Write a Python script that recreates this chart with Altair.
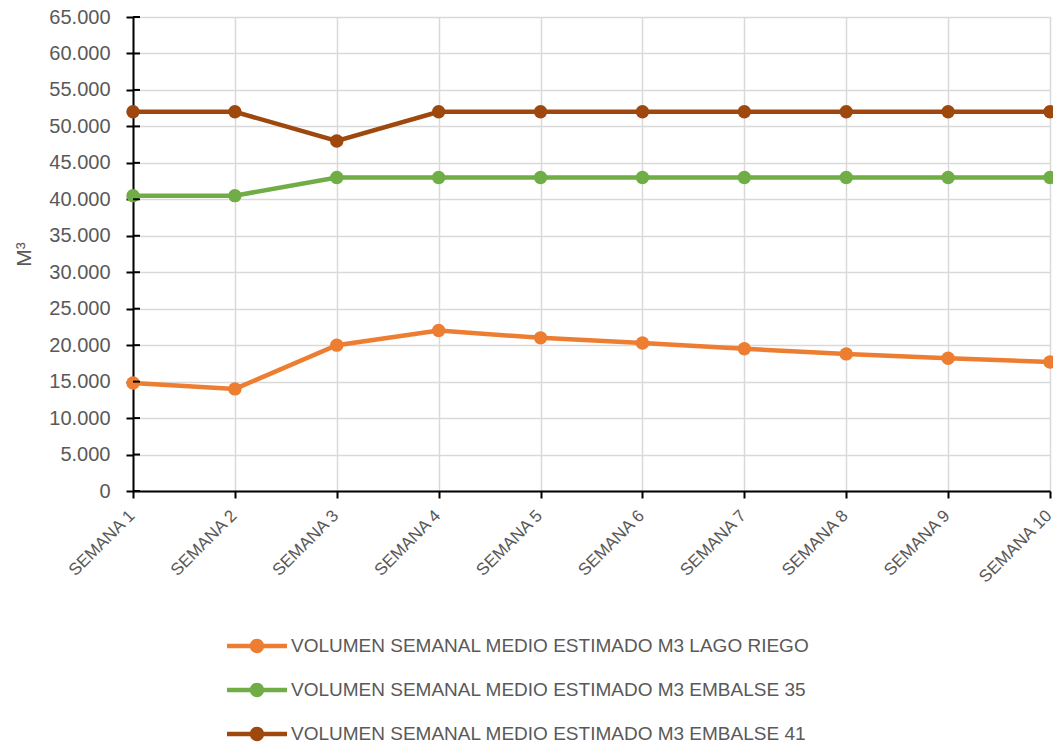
import altair as alt
import pandas as pd

semanas = [f"SEMANA {i}" for i in range(1, 11)]
series_names = [
    "VOLUMEN SEMANAL MEDIO ESTIMADO M3 LAGO RIEGO",
    "VOLUMEN SEMANAL MEDIO ESTIMADO M3 EMBALSE 35",
    "VOLUMEN SEMANAL MEDIO ESTIMADO M3 EMBALSE 41",
]
lago_riego = [14800, 14000, 20000, 22000, 21000, 20300, 19500, 18800, 18200, 17700]
embalse_35 = [40500, 40500, 43000, 43000, 43000, 43000, 43000, 43000, 43000, 43000]
embalse_41 = [52000, 52000, 48000, 52000, 52000, 52000, 52000, 52000, 52000, 52000]
colors = ["#ED7D31", "#70AD47", "#9E480E"]
y_ticks = list(range(0, 65001, 5000))

rows = []
for name, vals in zip(series_names, [lago_riego, embalse_35, embalse_41]):
    for s, v in zip(semanas, vals):
        rows.append({"semana": s, "serie": name, "valor": v})
df = pd.DataFrame(rows)
ticks_df = pd.DataFrame({"t": y_ticks})

FONT = "Liberation Sans"
GRAY = "#595959"

legend_path = ("M-1,-0.075 L1,-0.075 L1,0.075 L-1,0.075 Z "
               "M-0.24,0 A0.24,0.24 0 1,1 0.24,0 A0.24,0.24 0 1,1 -0.24,0 Z")

y_scale = alt.Scale(domain=[0, 65000], nice=False)
y_axis = alt.Axis(title="M³", values=y_ticks,
                  labelExpr="replace(format(datum.value, ','), ',', '.')",
                  labelFont=FONT, labelFontSize=20, labelColor=GRAY,
                  labelOverlap=False,
                  titleFont=FONT, titleFontSize=21, titleColor=GRAY,
                  titleFontWeight="normal", titlePadding=14,
                  domainColor="black", domainWidth=2,
                  tickColor="black", tickWidth=2, tickSize=7,
                  grid=True, gridColor="#d9d9d9", gridWidth=1.5,
                  labelPadding=16)

x_enc = alt.X("semana:N", sort=semanas, scale=alt.Scale(type="point", padding=0),
              axis=alt.Axis(title=None, labelAngle=315, labelFont=FONT, labelFontSize=17,
                            labelColor=GRAY, domainColor="black", domainWidth=2,
                            tickColor="black", tickWidth=2, tickSize=7,
                            grid=True, gridColor="#d9d9d9", gridWidth=1.5,
                            labelPadding=9, labelOffset=-7, labelOverlap=False))
y_enc = alt.Y("valor:Q", scale=y_scale, axis=y_axis)
color_enc = alt.Color("serie:N", sort=series_names,
                      scale=alt.Scale(domain=series_names, range=colors),
                      legend=alt.Legend(title=None, orient="none", direction="vertical",
                                        legendX=94, legendY=607,
                                        symbolType=legend_path, symbolSize=3600,
                                        symbolStrokeWidth=0, symbolOpacity=1,
                                        labelFont=FONT, labelFontSize=19, labelColor=GRAY,
                                        labelOffset=4, rowPadding=0, clipHeight=44,
                                        labelLimit=800))

base = alt.Chart(df)
lines = base.mark_line(strokeWidth=4.5).encode(x=x_enc, y=y_enc, color=color_enc)
points = base.mark_circle(size=180, opacity=1).encode(x=x_enc, y=y_enc, color=color_enc)

inner_ticks = alt.Chart(ticks_df).mark_rule(color="black", strokeWidth=2).encode(
    y=alt.Y("t:Q", scale=y_scale, axis=y_axis),
    x=alt.value(0), x2=alt.value(7))

chart = alt.layer(lines, points, inner_ticks).properties(
    width=917, height=474,
    autosize=alt.AutoSizeParams(type="none"),
    padding={"left": 125, "top": 9, "right": 3, "bottom": 254},
).configure_view(stroke=None).configure_axis(labelOverlap=False)

chart.save("out.html", embed_options={"renderer": "svg", "actions": False})
